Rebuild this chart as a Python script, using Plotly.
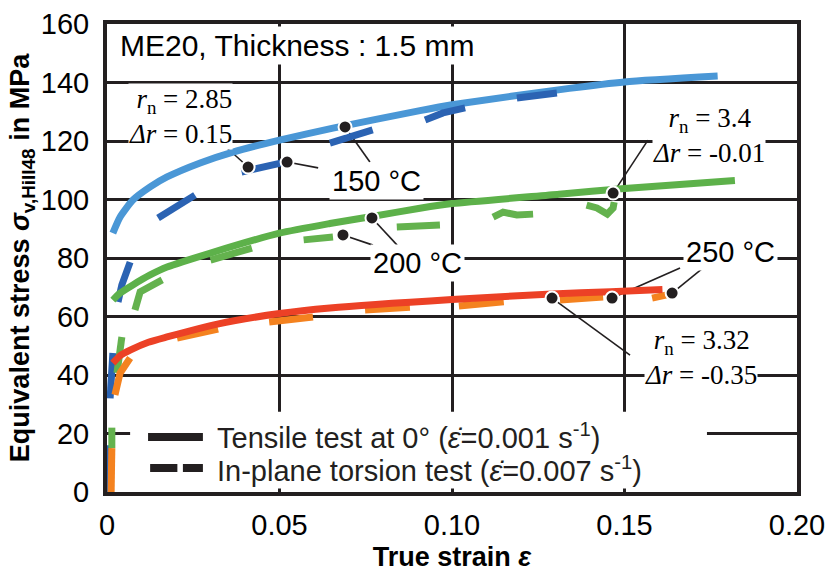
import plotly.graph_objects as go

# ---- tensile tests at 0° (solid curves) ----
eps_t150 = [0.0017, 0.0038, 0.0075, 0.0125, 0.0174, 0.027, 0.0365, 0.050, 0.0655,
            0.0907, 0.100, 0.134, 0.150, 0.177]
sig_t150 = [88.5, 94.0, 99.8, 104.3, 107.7, 112.5, 116.2, 120.3, 124.4,
            130.4, 132.4, 138.0, 140.2, 142.2]

eps_t200 = [0.0017, 0.0038, 0.0075, 0.0125, 0.0174, 0.030, 0.050, 0.0646, 0.0768,
            0.0907, 0.100, 0.131, 0.150, 0.182]
sig_t200 = [65.6, 68.0, 70.8, 74.2, 76.9, 81.7, 88.5, 91.8, 94.2,
            97.0, 98.6, 101.8, 103.8, 106.5]

eps_t250 = [0.0017, 0.0038, 0.0067, 0.0120, 0.0174, 0.032, 0.050, 0.0646, 0.100,
            0.129, 0.146, 0.161]
sig_t250 = [44.1, 46.6, 48.5, 51.2, 53.0, 57.4, 61.0, 62.9, 65.8,
            67.7, 68.5, 69.2]

# ---- in-plane torsion tests (recorded in separate pieces, None = gap) ----
eps_s150 = [0.0, 0.0003, None, 0.0009, 0.0017, None, 0.0032, 0.0043, 0.0067, None,
            0.0148, 0.0200, 0.0255, None, 0.039, 0.045, 0.051, None,
            0.0646, 0.0710, 0.077, None, 0.0922, 0.0974, 0.1038, None,
            0.1188, 0.1246, 0.1304]
sig_s150 = [0.0, 16.0, None, 32.0, 47.5, None, 65.0, 70.8, 78.6, None,
            93.7, 97.8, 101.5, None, 109.4, 111.2, 112.6, None,
            119.3, 121.8, 123.8, None, 127.2, 129.6, 131.3, None,
            134.7, 135.7, 136.4]

eps_s200 = [0.0014, 0.0014, None, 0.0029, 0.0043, None, 0.0081, 0.0096, 0.016, None,
            0.030, 0.042, None, 0.057, 0.0655, None, 0.084, 0.0965, None,
            0.1119, 0.1148, 0.1188, 0.1235, None,
            0.139, 0.142, 0.145, 0.1467, 0.147]
sig_s200 = [15.0, 22.0, None, 40.7, 53.0, None, 62.2, 68.4, 72.5, None,
            79.3, 83.4, None, 86.2, 87.2, None, 90.6, 91.3, None,
            94.0, 95.7, 94.7, 95.0, None,
            98.1, 97.1, 95.0, 97.1, 99.1]

eps_s250 = [0.0012, 0.0014, None, 0.0023, 0.0038, 0.0067, None, 0.0203, 0.0322, None,
            0.047, 0.0597, None, 0.0748, 0.0878, None, 0.102, 0.115, None,
            0.1313, 0.1438, None, 0.158, 0.1623]
sig_s250 = [0.0, 15.0, None, 33.2, 40.7, 45.8, None, 52.6, 55.7, None,
            58.1, 59.8, None, 62.2, 63.2, None, 63.6, 65.0, None,
            65.6, 66.7, None, 66.3, 67.4]

# ---- marked points and where their leader lines end ----
dot_eps = [0.0409, 0.0522, 0.069, 0.0684, 0.0768, 0.1467, 0.129, 0.1464, 0.1638]
dot_sig = [111.1, 112.8, 124.8, 87.9, 93.7, 102.2, 66.3, 66.3, 68.0]
lead_eps = [0.0348, 0.0612, 0.0762, 0.0771, 0.0841, 0.1568, 0.1516, 0.1661, 0.1728]
lead_sig = [117.6, 110.8, 112.8, 84.4, 84.4, 120.3, 46.8, 76.6, 76.6]

x_ticks = [0, 0.05, 0.10, 0.15, 0.20]
x_ticktext = ["0", "0.05", "0.10", "0.15", "0.20"]
y_ticks = [0, 20, 40, 60, 80, 100, 120, 140, 160]

INK = "#231f20"
C_T150, C_S150 = "#4a97d6", "#2b63b3"
C_T200, C_S200 = "#5db14a", "#64b24e"
C_T250, C_S250 = "#ec4126", "#f4821f"

fig = go.Figure()

def curve(x, y, color, smooth):
    fig.add_trace(go.Scatter(
        x=x, y=y, mode="lines", connectgaps=False, showlegend=False,
        hoverinfo="skip",
        line=dict(color=color, width=7, shape="spline" if smooth else "linear",
                  smoothing=0.6),
    ))

curve(eps_t150, sig_t150, C_T150, True)
curve(eps_s150, sig_s150, C_S150, False)
curve(eps_t200, sig_t200, C_T200, True)
curve(eps_s200, sig_s200, C_S200, False)
curve(eps_s250, sig_s250, C_S250, False)
curve(eps_t250, sig_t250, C_T250, True)

fig.add_trace(go.Scatter(
    x=dot_eps, y=dot_sig, mode="markers", showlegend=False, hoverinfo="skip",
    marker=dict(size=13, color=INK, line=dict(color="white", width=2)),
))

shapes = []
for x0, y0, x1, y1 in zip(dot_eps, dot_sig, lead_eps, lead_sig):
    shapes.append(dict(type="line", xref="x", yref="y", x0=x0, y0=y0, x1=x1, y1=y1,
                       line=dict(color=INK, width=1.6), layer="between"))

# legend panel with drawn symbols
shapes.append(dict(type="rect", xref="x", yref="y", x0=0.0067, x1=0.1739, y0=1.2, y1=27.4,
                   fillcolor="white", line=dict(width=0), layer="between"))
shapes.append(dict(type="line", xref="x", yref="y", x0=0.0119, x1=0.0278, y0=18.8, y1=18.8,
                   line=dict(color=INK, width=8), layer="above"))
shapes.append(dict(type="line", xref="x", yref="y", x0=0.0125, x1=0.0204, y0=8.2, y1=8.2,
                   line=dict(color=INK, width=8), layer="above"))
shapes.append(dict(type="line", xref="x", yref="y", x0=0.0220, x1=0.0278, y0=8.2, y1=8.2,
                   line=dict(color=INK, width=8), layer="above"))

SANS = "Liberation Sans, Arial, sans-serif"
SERIF = "Liberation Serif, Times New Roman, serif"

def label(text, x, y, size=29, family=SANS, xanchor="center", align="center", pad=2):
    return dict(text=text, x=x, y=y, xref="x", yref="y", showarrow=False,
                xanchor=xanchor, yanchor="middle", align=align,
                bgcolor="white", borderpad=pad,
                font=dict(family=family, size=size, color="black"))

annotations = [
    label("ME20, Thickness : 1.5 mm", 0.0029, 152.6, size=30, xanchor="left"),
    label("150 °C", 0.078, 106.3),
    label("200 °C", 0.0901, 78.4),
    label("250 °C", 0.1806, 82.2),
    label("<i>r</i><sub>n</sub> = 2.85<br><i>Δr</i> = 0.15", 0.0365, 128.4,
          size=27, family=SERIF, xanchor="right", align="right", pad=0),
    label("<i>r</i><sub>n</sub> = 3.4<br><i>Δr</i> = -0.01", 0.1745, 121.8,
          size=27, family=SERIF, pad=0),
    label("<i>r</i><sub>n</sub> = 3.32<br><i>Δr</i> = -0.35", 0.1722, 46.0,
          size=27, family=SERIF, pad=0),
    dict(text="Tensile test at 0° (<i>ε̇</i>=0.001 s<sup>-1</sup>)", x=0.0313, y=19.3,
         xref="x", yref="y", showarrow=False, xanchor="left", yanchor="middle",
         font=dict(family=SANS, size=29, color=INK)),
    dict(text="In-plane torsion test (<i>ε̇</i>=0.007 s<sup>-1</sup>)", x=0.0313, y=8.0,
         xref="x", yref="y", showarrow=False, xanchor="left", yanchor="middle",
         font=dict(family=SANS, size=29, color=INK)),
]

axis_common = dict(
    showgrid=True, gridcolor=INK, gridwidth=2.5,
    showline=True, linecolor=INK, linewidth=4, mirror=True,
    ticks="", zeroline=False, layer="below traces", automargin=False,
    tickfont=dict(family=SANS, size=29, color="black"),
)

fig.update_layout(
    width=830, height=575,
    margin=dict(l=107, r=33, t=24, b=83),
    paper_bgcolor="white", plot_bgcolor="white",
    shapes=shapes, annotations=annotations,
    xaxis=dict(range=[0, 0.2], tickvals=x_ticks, ticktext=x_ticktext,
               ticklabelstandoff=4,
               title=dict(text="<b>True strain <i>ε</i></b>", standoff=8,
                          font=dict(family=SANS, size=27, color="black")),
               **axis_common),
    yaxis=dict(range=[0, 160], tickvals=y_ticks, ticklabelstandoff=8,
               title=dict(text="<b>Equivalent stress <i>σ</i><sub>v,Hill48</sub> in MPa</b>",
                          standoff=4,
                          font=dict(family=SANS, size=27, color="black")),
               **axis_common),
)

fig.write_html("out.html")
